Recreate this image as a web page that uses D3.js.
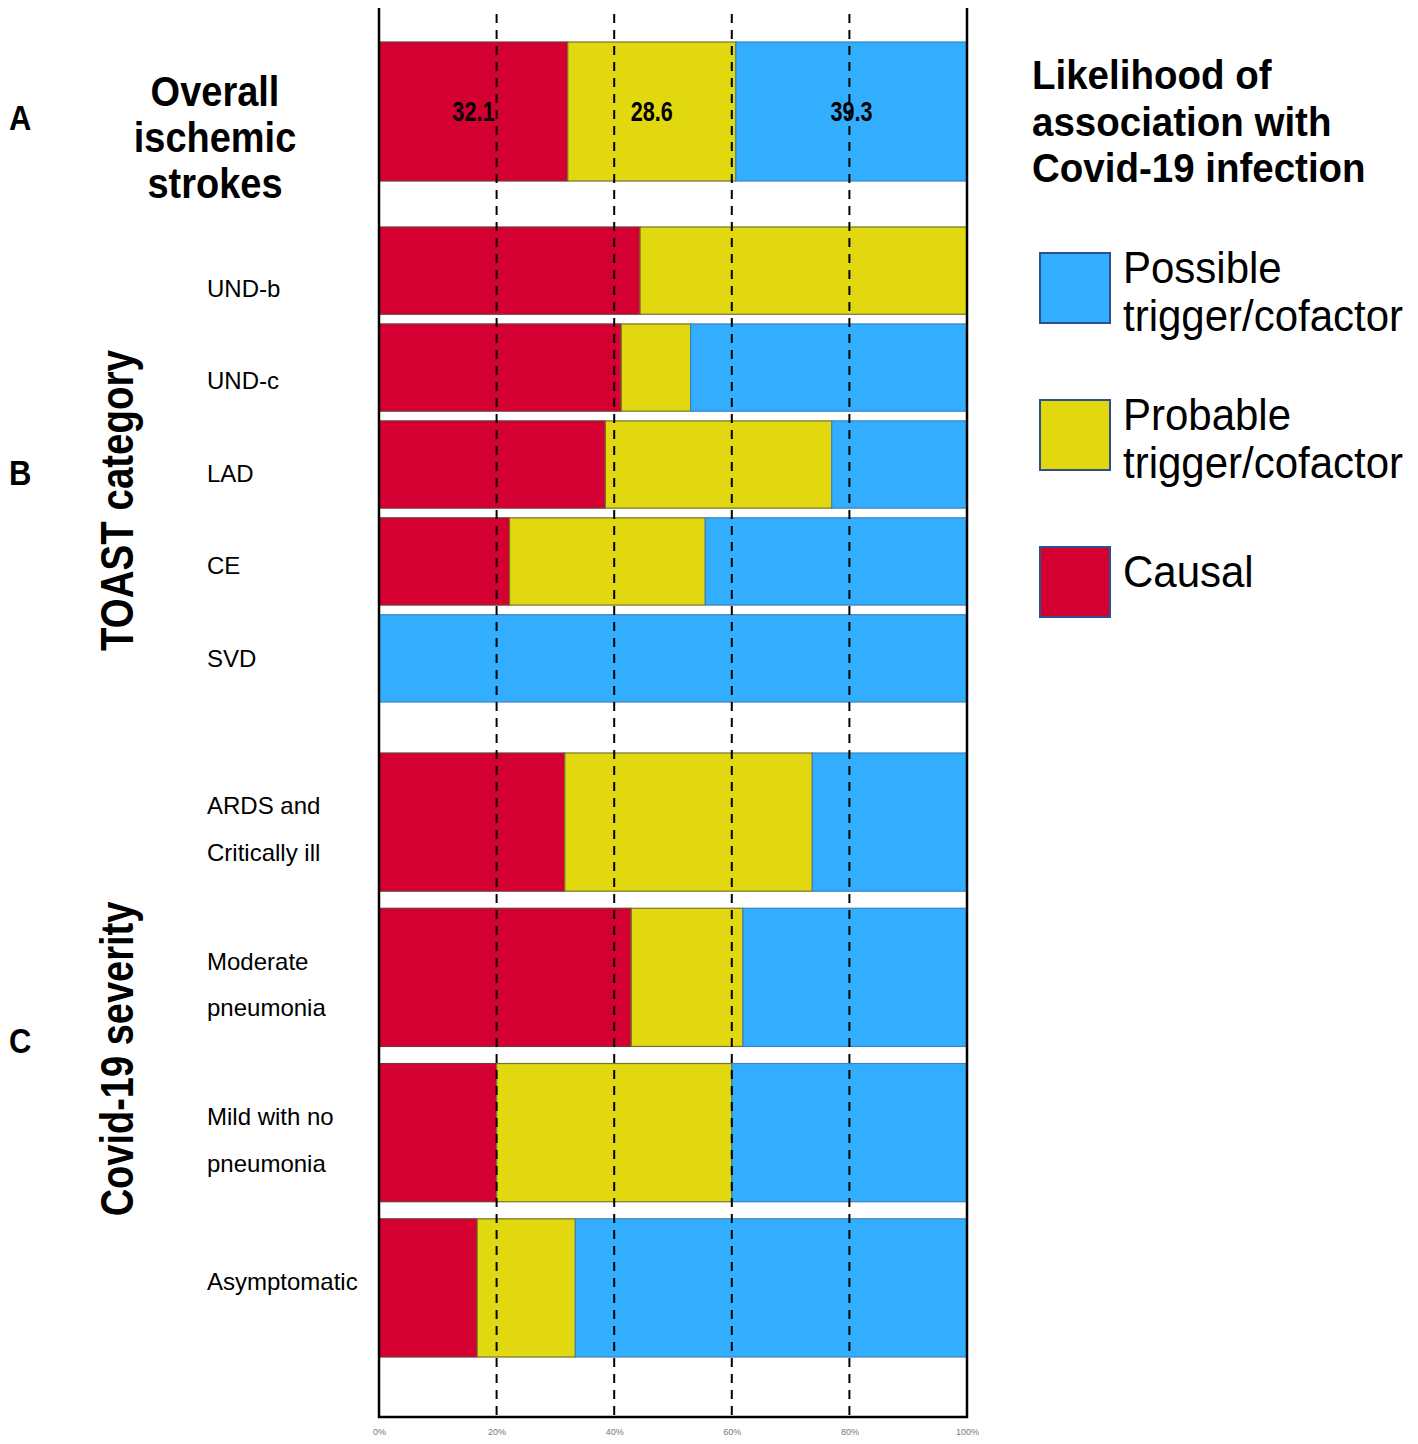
<!DOCTYPE html>
<html>
<head>
<meta charset="utf-8">
<script src="https://cdn.jsdelivr.net/npm/d3@7"></script>
<style>
  body { margin: 0; background: #fff; }
  text { font-family: "Liberation Sans", Arial, Helvetica, sans-serif; }
</style>
</head>
<body>
<div id="container"></div>
<script>
/* DATA */
const overallCats = ["Overall ischemic strokes"]
const toastCats = ["UND-b", "UND-c", "LAD", "CE", "SVD"]
const severityCats = ["ARDS and Critically ill", "Moderate pneumonia", "Mild with no pneumonia", "Asymptomatic"]
// percentages, one per row: overall, then toast, then severity
const causal   = [32.1, 44.4, 41.2, 38.5, 22.2, 0, 31.6, 42.9, 20.0, 16.7]
const probable = [28.6, 55.6, 11.8, 38.5, 33.3, 0, 42.1, 19.0, 40.0, 16.7]
const possible = [39.3, 0, 47.0, 23.0, 44.5, 100, 26.3, 38.1, 40.0, 66.6]
const xTicks = [0, 20, 40, 60, 80, 100]
const seriesKeys = ["causal", "probable", "possible"]
const legendKeys = ["possible", "probable", "causal"]
const legendLabels = [["Possible", "trigger/cofactor"], ["Probable", "trigger/cofactor"], ["Causal"]]
const severityLines = [["ARDS and", "Critically ill"], ["Moderate", "pneumonia"], ["Mild with no", "pneumonia"], ["Asymptomatic"]]

/* CONSTANTS */
const width = 1418, height = 1444
const colors = { causal: "#d50032", probable: "#e2d80f", possible: "#33aeff" }
const edges = { causal: "#6e3a3a", probable: "#77722a", possible: "#3b82bf" }
const plotTop = 8, plotBottom = 1417

const rows = overallCats.concat(toastCats, severityCats).map((cat, i) => ({
  cat: cat,
  causal: causal[i],
  probable: probable[i],
  possible: possible[i]
}))

/* SCALES */
const xScale = d3.scaleLinear().domain([0, 100]).range([379, 967])

const yA = d3.scaleBand().domain(overallCats).range([42, 181])
const yB = d3.scaleBand().domain(toastCats).range([227, 702]).paddingInner(0.1)
const yC = d3.scaleBand().domain(severityCats).range([753, 1357]).paddingInner(0.11)
const yScaleFor = cat => overallCats.includes(cat) ? yA : toastCats.includes(cat) ? yB : yC

const stacked = d3.stack().keys(seriesKeys)(rows)

/* SVG */
const svg = d3.select("#container")
  .append("svg")
  .attr("width", width)
  .attr("height", height)

// bars
svg.selectAll(".series")
  .data(stacked)
  .join("g")
  .attr("class", "series")
  .attr("fill", s => colors[s.key])
  .attr("stroke", s => edges[s.key])
  .selectAll("rect")
  .data(s => s.filter(d => d[1] - d[0] > 0))
  .join("rect")
  .attr("x", d => xScale(d[0]))
  .attr("width", d => xScale(d[1]) - xScale(d[0]))
  .attr("y", d => yScaleFor(d.data.cat)(d.data.cat))
  .attr("height", d => yScaleFor(d.data.cat).bandwidth())
  .attr("stroke-width", 1.2)

// value labels in the overall bar
svg.selectAll(".value")
  .data(stacked.map(s => ({ key: s.key, d: s[0] })))
  .join("text")
  .attr("class", "value")
  .attr("transform", v => `translate(${(xScale(v.d[0]) + xScale(v.d[1])) / 2},${yA(overallCats[0]) + yA.bandwidth() / 2 + 9}) scale(0.9,1.15)`)
  .attr("text-anchor", "middle")
  .style("font-weight", "bold")
  .style("font-size", "24px")
  .text(v => d3.format(".1f")(v.d.data[v.key]))

// dashed gridlines
svg.selectAll(".grid")
  .data(xTicks.filter(t => t > 0 && t < 100))
  .join("line")
  .attr("class", "grid")
  .attr("x1", d => xScale(d))
  .attr("x2", d => xScale(d))
  .attr("y1", 14)
  .attr("y2", plotBottom)
  .attr("stroke", "#000")
  .attr("stroke-width", 2)
  .attr("stroke-dasharray", "9,7")

// frame
svg.append("path")
  .attr("d", `M${xScale(0)},${plotTop}V${plotBottom}H${xScale(100)}V${plotTop}`)
  .attr("fill", "none")
  .attr("stroke", "#000")
  .attr("stroke-width", 2.5)

// x axis
const xAxis = d3.axisBottom(xScale)
  .tickValues(xTicks)
  .tickFormat(d => d + "%")
  .tickSize(0)
  .tickPadding(12)
const gx = svg.append("g")
  .attr("transform", `translate(0,${plotBottom})`)
  .call(xAxis)
gx.select(".domain").remove()
gx.selectAll("text")
  .attr("fill", "#777")
  .style("font-size", "9px")
  .style("font-family", "'Liberation Sans', Arial, sans-serif")

// row labels, TOAST
const labB = d3.scalePoint().domain(toastCats).range([288, 658])
svg.selectAll(".labB")
  .data(toastCats)
  .join("text")
  .attr("class", "labB")
  .attr("x", 207)
  .attr("y", d => labB(d))
  .attr("dy", "0.36em")
  .style("font-size", "24px")
  .text(d => d)

// row labels, severity
svg.selectAll(".labC")
  .data(severityCats)
  .join("text")
  .attr("class", "labC")
  .attr("x", 207)
  .attr("y", (d, i) => yC(d) + yC.bandwidth() / 2 + (severityLines[i].length > 1 ? 7 : -7))
  .style("font-size", "24px")
  .each(function (d, i) {
    const lines = severityLines[i]
    d3.select(this).selectAll("tspan")
      .data(lines)
      .join("tspan")
      .attr("x", 207)
      .attr("dy", (l, j) => j === 0 ? `${0.36 - (lines.length - 1) * 0.97}em` : "1.94em")
      .text(l => l)
  })

// section letters
const letters = [
  { t: "A", y: yA(overallCats[0]) + yA.bandwidth() / 2 + 18 },
  { t: "B", y: (yB.range()[0] + yB.range()[1]) / 2 + 20 },
  { t: "C", y: (yC.range()[0] + yC.range()[1]) / 2 - 2 }
]
svg.selectAll(".letter")
  .data(letters)
  .join("text")
  .attr("class", "letter")
  .attr("transform", d => `translate(9,${d.y}) scale(1,1.12)`)
  .style("font-weight", "bold")
  .style("font-size", "31px")
  .text(d => d.t)

// overall title
svg.selectAll(".overallTitle")
  .data(["Overall", "ischemic", "strokes"])
  .join("text")
  .attr("class", "overallTitle")
  .attr("transform", (d, i) => `translate(215,${106 + i * 46}) scale(1,1.12)`)
  .attr("text-anchor", "middle")
  .style("font-weight", "bold")
  .style("font-size", "38px")
  .text(d => d)

// rotated group titles
const groupTitles = [
  { t: "TOAST category", y: (yB.range()[0] + yB.range()[1]) / 2 + 36, size: 38.5 },
  { t: "Covid-19 severity", y: (yC.range()[0] + yC.range()[1]) / 2 + 4, size: 38 }
]
svg.selectAll(".groupTitle")
  .data(groupTitles)
  .join("text")
  .attr("class", "groupTitle")
  .attr("transform", d => `translate(133,${d.y}) rotate(-90) scale(1,1.2)`)
  .attr("text-anchor", "middle")
  .style("font-weight", "bold")
  .style("font-size", d => d.size + "px")
  .text(d => d.t)

// legend title
svg.selectAll(".legendTitle")
  .data(["Likelihood of", "association with", "Covid-19 infection"])
  .join("text")
  .attr("class", "legendTitle")
  .attr("transform", (d, i) => `translate(1032,${89 + i * 46.5}) scale(1,1.04)`)
  .style("font-weight", "bold")
  .style("font-size", "38.5px")
  .text(d => d)

// legend swatches
const yLegend = d3.scalePoint().domain(legendKeys).range([253, 547])
svg.selectAll(".swatch")
  .data(legendKeys)
  .join("rect")
  .attr("class", "swatch")
  .attr("x", 1040)
  .attr("y", d => yLegend(d))
  .attr("width", 70)
  .attr("height", 70)
  .attr("fill", d => colors[d])
  .attr("stroke", "#2f4f8f")
  .attr("stroke-width", 2)

// legend labels
svg.selectAll(".legendLabel")
  .data(legendKeys)
  .join("g")
  .attr("class", "legendLabel")
  .each(function (k, i) {
    const lines = legendLabels[i]
    const top = yLegend(k)
    d3.select(this).selectAll("text")
      .data(lines)
      .join("text")
      .attr("transform", (l, j) => `translate(1123,${lines.length > 1 ? top + 30 + j * 48 : top + 40}) scale(1,1.04)`)
      .style("font-size", "42px")
      .text(l => l)
  })
</script>
</body>
</html>
